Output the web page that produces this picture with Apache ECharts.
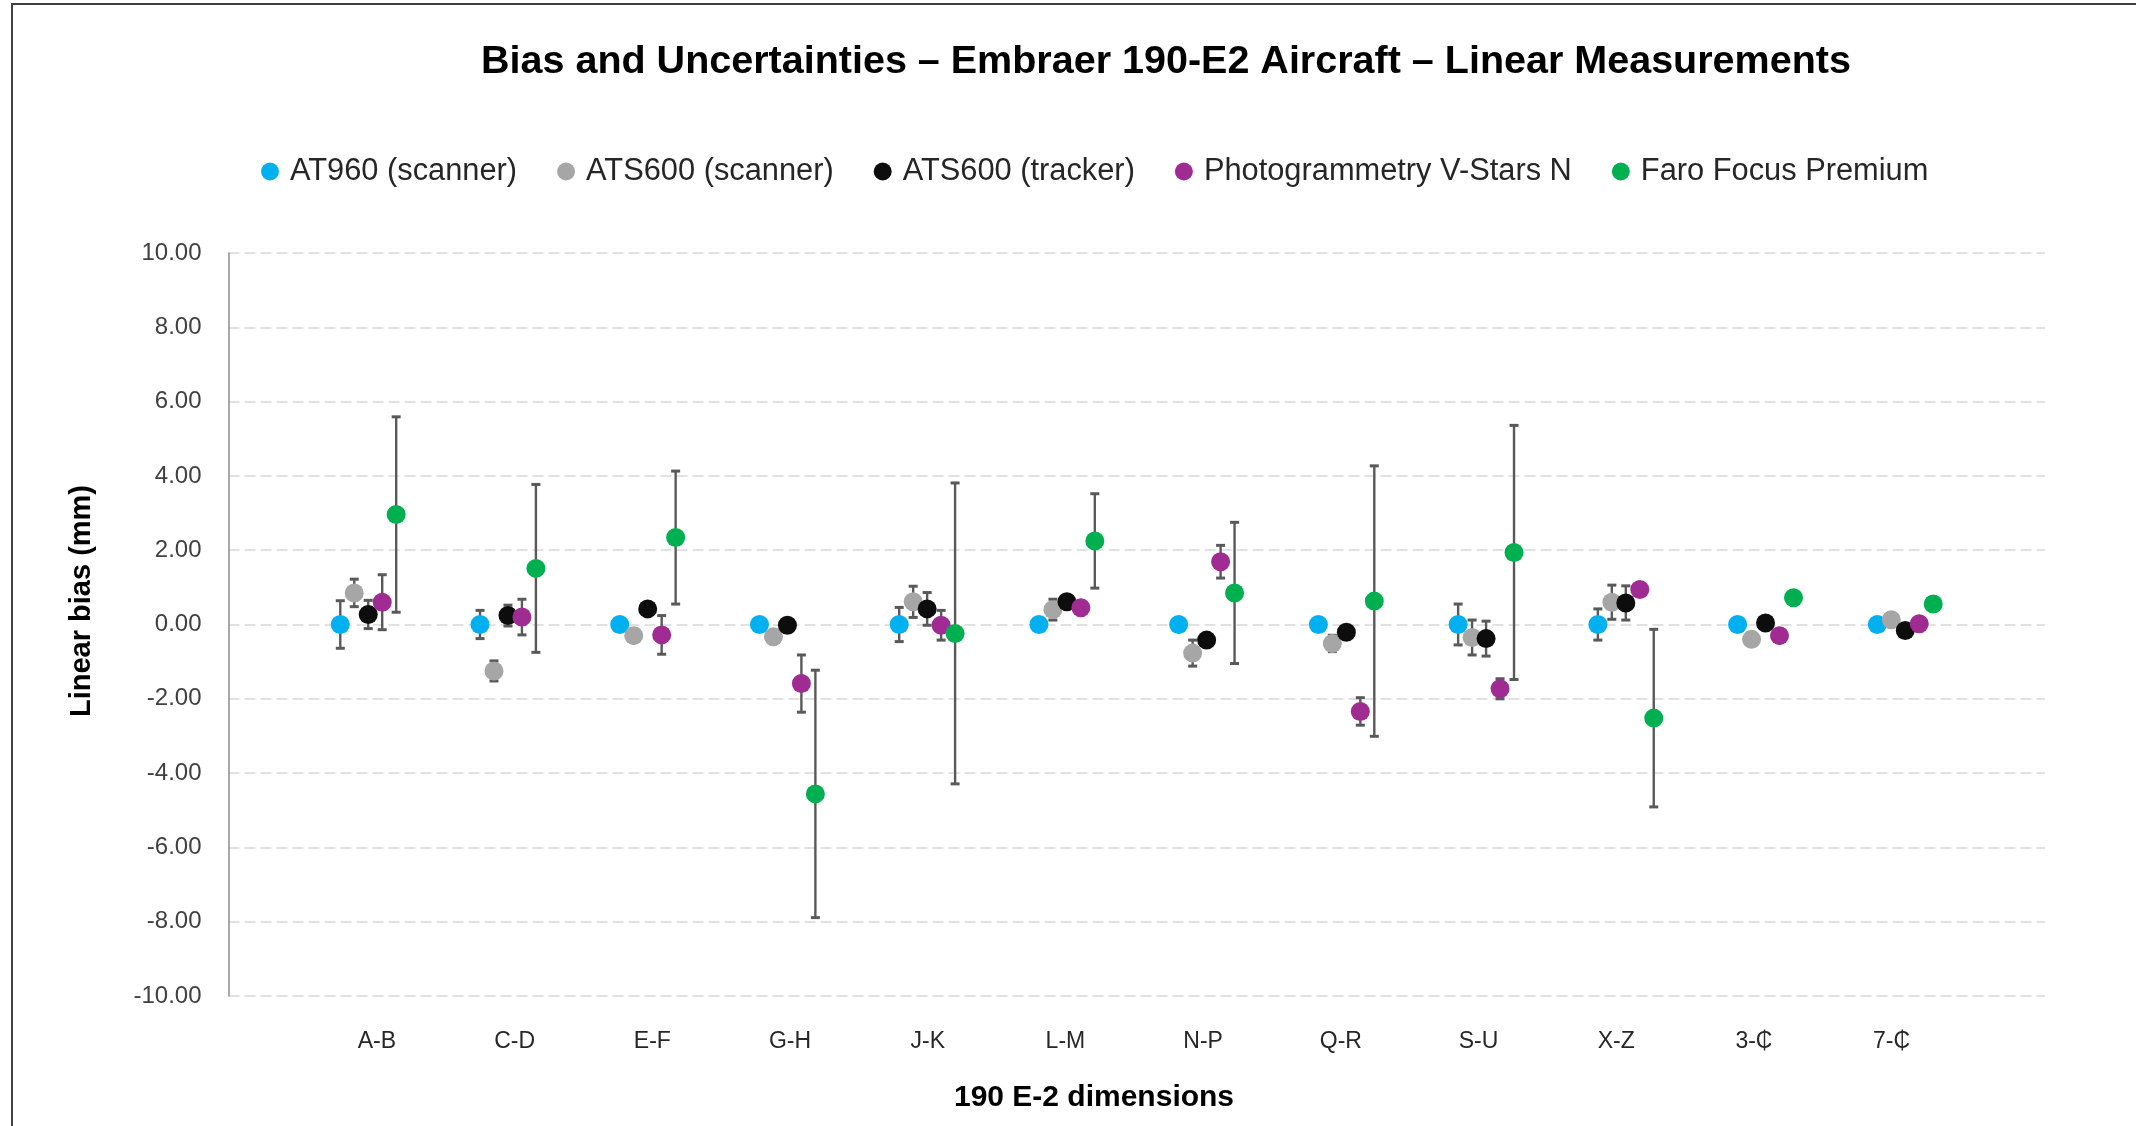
<!DOCTYPE html>
<html>
<head>
<meta charset="utf-8">
<script src="https://cdn.jsdelivr.net/npm/echarts@6/dist/echarts.min.js"></script>
<style>html,body{margin:0;padding:0;background:#fff;}#c{width:2136px;height:1126px;}</style>
</head>
<body>
<div id="c"></div>
<script>
// ---- data ----
const categories = ['A-B','C-D','E-F','G-H','J-K','L-M','N-P','Q-R','S-U','X-Z','3-\u20B5','7-\u20B5'];
const seriesNames = ['AT960 (scanner)','ATS600 (scanner)','ATS600 (tracker)','Photogrammetry V-Stars N','Faro Focus Premium'];
const at960      = [0.00, 0.00, 0.00, 0.00, 0.00, 0.00, 0.00, 0.00, 0.00, 0.00, 0.00, 0.00];
const at960Err   = [0.64, 0.38, null, null, 0.46, null, null, null, 0.55, 0.42, null, null];
const ats600s    = [0.85,-1.25,-0.30,-0.33, 0.61, 0.40,-0.77,-0.51,-0.35, 0.60,-0.40, 0.13];
const ats600sErr = [0.37, 0.27, null, null, 0.42, 0.28, 0.35, 0.22, 0.47, 0.46, null, null];
const ats600t    = [0.27, 0.24, 0.42,-0.02, 0.42, 0.61,-0.42,-0.21,-0.38, 0.58, 0.04,-0.16];
const ats600tErr = [0.38, 0.28, null, null, 0.44, null, null, null, 0.47, 0.46, null, null];
const photo      = [0.60, 0.20,-0.28,-1.59,-0.02, 0.45, 1.69,-2.34,-1.73, 0.94,-0.30, 0.02];
const photoErr   = [0.74, 0.48, 0.52, 0.77, 0.40, null, 0.44, 0.37, 0.27, null, null, null];
const faro       = [2.96, 1.51, 2.34,-4.56,-0.24, 2.25, 0.85, 0.63, 1.94,-2.52, 0.72, 0.55];
const faroErr    = [2.63, 2.26, 1.79, 3.33, 4.05, 1.27, 1.90, 3.64, 3.42, 2.39, null, null];
const yTicks = { min: -10, max: 10, interval: 2 };

// ---- styling ----
const colors = ['#00B0F0','#A6A6A6','#0D0D0D','#A02B93','#00B050'];
const offsets = [-0.2,-0.1,0,0.1,0.2];
const values = [at960, ats600s, ats600t, photo, faro];
const errs = [at960Err, ats600sErr, ats600tErr, photoErr, faroErr];
const FONT = 'Liberation Sans, Arial, sans-serif';

function errRender(params, api) {
  const x = api.value(0), lo = api.value(1), hi = api.value(2);
  const t = api.coord([x, hi]), b = api.coord([x, lo]);
  const w = 4.5;
  const st = { stroke: '#595959', lineWidth: 2.4 };
  return { type: 'group', children: [
    { type: 'line', shape: { x1: t[0], y1: t[1], x2: b[0], y2: b[1] }, style: st },
    { type: 'line', shape: { x1: t[0]-w, y1: t[1], x2: t[0]+w, y2: t[1] }, style: { stroke: '#595959', lineWidth: 3 } },
    { type: 'line', shape: { x1: b[0]-w, y1: b[1], x2: b[0]+w, y2: b[1] }, style: { stroke: '#595959', lineWidth: 3 } }
  ]};
}

const series = [];
values.forEach((vals, s) => {
  const errData = [];
  vals.forEach((v, i) => {
    const e = errs[s][i];
    if (e != null) errData.push([i + 1 + offsets[s], v - e, v + e]);
  });
  series.push({
    type: 'custom', name: seriesNames[s] + ' err', renderItem: errRender,
    encode: { x: 0, y: [1, 2] }, data: errData, z: 2 + s * 2, silent: true
  });
  series.push({
    type: 'scatter', name: seriesNames[s], symbol: 'circle', symbolSize: 19,
    itemStyle: { color: colors[s], opacity: 1 },
    data: vals.map((v, i) => [i + 1 + offsets[s], v]), z: 3 + s * 2
  });
});

const chart = echarts.init(document.getElementById('c'), null, { renderer: 'canvas' });
chart.setOption({
  animation: false,
  backgroundColor: '#fff',
  title: {
    text: 'Bias and Uncertainties \u2013 Embraer 190-E2 Aircraft \u2013 Linear Measurements',
    left: 481, top: 42, padding: 0,
    textStyle: { fontFamily: FONT, fontSize: 39.5, fontWeight: 'bold', color: '#000', lineHeight: 40 }
  },
  legend: {
    data: seriesNames.map((n, i) => ({ name: n, icon: 'circle', itemStyle: { color: colors[i] } })),
    left: 261, top: 156, padding: 0, itemWidth: 18, itemHeight: 18, itemGap: 40,
    textStyle: { fontFamily: FONT, fontSize: 30.8, color: '#262626', lineHeight: 31, padding: [0, 0, 0, 6] }
  },
  grid: { left: 228.5, right: 91, top: 253, bottom: 130 },
  xAxis: [{
    type: 'value', min: 0, max: 13, interval: 1,
    axisLine: { show: false }, axisTick: { show: false }, splitLine: { show: false },
    axisLabel: { show: false }
  }, {
    // label-only axis: category names as placed in the original chart
    type: 'value', position: 'bottom', min: -0.078, max: 13.114,
    axisLine: { show: false }, axisTick: { show: false }, splitLine: { show: false },
    axisLabel: {
      customValues: categories.map((c, i) => i + 1),
      margin: 34, fontFamily: FONT, fontSize: 23, color: '#262626',
      formatter: v => categories[Math.round(v) - 1] || ''
    }
  }],
  yAxis: {
    type: 'value', min: yTicks.min, max: yTicks.max, interval: yTicks.interval,
    axisLine: { show: true, lineStyle: { color: '#8C8C8C', width: 1.5 } },
    axisTick: { show: false },
    splitLine: { show: true, lineStyle: { color: '#D9D9D9', width: 1.5, type: [11, 5] } },
    axisLabel: { margin: 27, fontFamily: FONT, fontSize: 24, color: '#404040', formatter: v => v.toFixed(2) }
  },
  graphic: [
    { type: 'rect', shape: { x: 12, y: 4, width: 2300, height: 1300 }, style: { fill: 'none', stroke: '#404040', lineWidth: 2 }, silent: true },
    { type: 'text', x: 82, y: 601, rotation: Math.PI / 2,
      style: { text: 'Linear bias (mm)', fontFamily: FONT, fontSize: 29, fontWeight: 'bold', fill: '#000', textAlign: 'center', textVerticalAlign: 'middle' } },
    { type: 'text', x: 1094, y: 1098,
      style: { text: '190 E-2 dimensions', fontFamily: FONT, fontSize: 30, fontWeight: 'bold', fill: '#000', textAlign: 'center', textVerticalAlign: 'middle' } }
  ],
  series: series
});
</script>
</body>
</html>
